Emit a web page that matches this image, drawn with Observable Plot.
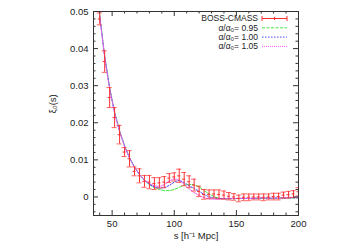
<!DOCTYPE html>
<html><head><meta charset="utf-8">
<script src="https://cdn.jsdelivr.net/npm/d3@7"></script>
<script src="https://cdn.jsdelivr.net/npm/@observablehq/plot@0.6"></script>
<style>body{margin:0;background:#fff}#chart{width:359px;height:252px}</style>
</head><body><div id="chart"></div>
<script>
// separation s [h^-1 Mpc]
const sVals = [40,44,48,52,56,60,64,68,72,76,80,84,88,92,96,100,104,108,112,116,120,124,128,132,136,140,144,148,152,156,160,164,168,172,176,180,184,188,192,196,200];
// BOSS-CMASS measurement
const xiObs = [0.0480,0.0365,0.0268,0.0214,0.0168,0.0121,0.0103,0.0069,0.0057,0.0042,0.0040,0.0036,0.0038,0.0040,0.0051,0.0054,0.0057,0.0048,0.0041,0.0032,0.0015,0.0007,0.0007,0.0008,0.0007,0.0005,0.0002,0.0000,-0.0004,-0.0001,-0.0001,0.0000,0.0000,-0.0001,0.0000,0.0001,0.0001,0.0005,0.0006,0.0008,0.0014];
const xiErr = [0.0016,0.0029,0.0027,0.0027,0.0025,0.0012,0.0022,0.0012,0.0019,0.0016,0.0018,0.0016,0.0014,0.0015,0.0012,0.0011,0.0018,0.0018,0.0016,0.0016,0.0014,0.0013,0.0012,0.0011,0.0012,0.0011,0.0010,0.0009,0.0009,0.0009,0.0009,0.0008,0.0008,0.0009,0.0008,0.0009,0.0009,0.0008,0.0009,0.0009,0.0011];
// models
const xi095 = [0.0490,0.0380,0.0295,0.0229,0.0178,0.0138,0.0106,0.0081,0.0061,0.0045,0.0033,0.0025,0.0020,0.0017,0.0017,0.0020,0.0026,0.0032,0.0034,0.0033,0.0027,0.0017,0.0008,0.0001,-0.0004,-0.0005,-0.0005,-0.0005,-0.0004,-0.0004,-0.0004,-0.0004,-0.0004,-0.0004,-0.0004,-0.0004,-0.0003,-0.0003,-0.0003,-0.0003,-0.0002];
const xi100 = [0.0488,0.0378,0.0293,0.0227,0.0177,0.0137,0.0105,0.0080,0.0060,0.0045,0.0034,0.0027,0.0024,0.0025,0.0031,0.0040,0.0045,0.0039,0.0030,0.0023,0.0015,0.0007,0.0000,-0.0003,-0.0004,-0.0004,-0.0004,-0.0004,-0.0004,-0.0004,-0.0004,-0.0004,-0.0003,-0.0003,-0.0003,-0.0003,-0.0003,-0.0003,-0.0002,-0.0002,-0.0002];
const xi105 = [0.0486,0.0376,0.0291,0.0226,0.0176,0.0137,0.0105,0.0080,0.0061,0.0046,0.0036,0.0030,0.0028,0.0033,0.0043,0.0049,0.0045,0.0034,0.0022,0.0012,0.0004,-0.0002,-0.0005,-0.0006,-0.0006,-0.0005,-0.0005,-0.0004,-0.0004,-0.0004,-0.0004,-0.0003,-0.0003,-0.0003,-0.0003,-0.0003,-0.0003,-0.0002,-0.0002,-0.0002,-0.0002];
// ticks
const xMajor = [50,100,150,200];
const xMinor = [40,60,70,80,90,110,120,130,140,160,170,180,190];
const yMajor = [0,0.01,0.02,0.03,0.04,0.05];
const yMinor = [-0.004,-0.002,0.002,0.004,0.006,0.008,0.012,0.014,0.016,0.018,0.022,0.024,0.026,0.028,0.032,0.034,0.036,0.038,0.042,0.044,0.046,0.048];
const legendLabels = ["BOSS-CMASS","α/α₀= 0.95","α/α₀= 1.00","α/α₀= 1.05"];
const xLabel = "s [h⁻¹ Mpc]";
const yLabel = "ξ₀(s)";

const W=359,H=252,mL=93,mR=61,mT=11,mB=37;
const fw=W-mL-mR, fh=H-mT-mB;
const red="#ff3030", green="#44e044", blue="#4848ff", pink="#f060f0";
const styles=[{c:green,d:"3,1.5",v:xi095},{c:blue,d:"1.5,1.5",v:xi100},{c:pink,d:"1,1",v:xi105}];
const obs = sVals.map((s,i)=>({s, xi:xiObs[i], lo:xiObs[i]-xiErr[i], hi:xiObs[i]+xiErr[i]}));
const tc="#333";
const font="'Liberation Sans', Arial, sans-serif";

const plot = Plot.plot({
  width:W, height:H, marginLeft:mL, marginRight:mR, marginTop:mT, marginBottom:mB,
  x:{domain:[35,200]}, y:{domain:[-0.005,0.05]},
  style:{fontFamily:font, fontSize:"9.5px", background:"#fff", color:"#222"},
  marks:[
    ...styles.map(m=>Plot.line(sVals.map((s,i)=>({s,xi:m.v[i]})),{x:"s",y:"xi",stroke:m.c,strokeWidth:1,strokeDasharray:m.d,clip:true})),
    Plot.ruleX(obs,{x:"s",y1:"lo",y2:"hi",stroke:red,strokeWidth:1,clip:true}),
    Plot.ruleY(obs,{y:"lo",x1:"s",x2:"s",insetLeft:-2.5,insetRight:-2.5,stroke:red,strokeWidth:1,strokeOpacity:0.75,clip:true}),
    Plot.ruleY(obs,{y:"hi",x1:"s",x2:"s",insetLeft:-2.5,insetRight:-2.5,stroke:red,strokeWidth:1,strokeOpacity:0.75,clip:true}),
    Plot.ruleY(obs,{y:"xi",x1:"s",x2:"s",insetLeft:-1.5,insetRight:-1.5,stroke:red,strokeWidth:1,clip:true}),
    // inward ticks, all four sides
    Plot.ruleX(xMajor,{x:d=>d,insetTop:fh-5,stroke:tc}),
    Plot.ruleX(xMajor,{x:d=>d,insetBottom:fh-5,stroke:tc}),
    Plot.ruleX(xMinor,{x:d=>d,insetTop:fh-2.5,stroke:tc}),
    Plot.ruleX(xMinor,{x:d=>d,insetBottom:fh-2.5,stroke:tc}),
    Plot.ruleY(yMajor,{y:d=>d,insetRight:fw-5,stroke:tc}),
    Plot.ruleY(yMajor,{y:d=>d,insetLeft:fw-5,stroke:tc}),
    Plot.ruleY(yMinor,{y:d=>d,insetRight:fw-2.5,stroke:tc}),
    Plot.ruleY(yMinor,{y:d=>d,insetLeft:fw-2.5,stroke:tc}),
    Plot.frame({stroke:tc,strokeWidth:1}),
    Plot.axisX({ticks:xMajor,tickSize:0,tickPadding:5,label:null,tickFormat:d=>String(d)}),
    Plot.axisY({ticks:yMajor,tickSize:0,tickPadding:5,label:null,tickFormat:d=>d===0?"0":d.toFixed(2)}),
    Plot.text([xLabel],{frameAnchor:"bottom",dy:23,text:d=>d,fontSize:9.5}),
    Plot.text([yLabel],{frameAnchor:"left",dx:-41,rotate:-90,text:d=>d,fontSize:9.5})
  ]
});
document.getElementById("chart").appendChild(plot);

// legend
const svg = d3.select(plot);
const g = svg.append("g").attr("font-size",8.5).attr("font-family",font);
const rowY=[18.5,27.8,37.1,46.4], tx=258, x1=262, x2=287;
legendLabels.forEach((lab,i)=>{
  g.append("text").attr("x",tx).attr("y",rowY[i]).attr("dy","0.32em").attr("text-anchor","end").attr("fill","#222").text(lab);
});
g.append("line").attr("x1",x1).attr("x2",x2).attr("y1",rowY[0]).attr("y2",rowY[0]).attr("stroke",red);
[x1,(x1+x2)/2,x2].forEach((x,j)=>g.append("line").attr("x1",x).attr("x2",x).attr("y1",rowY[0]-(j==1?1.5:2.5)).attr("y2",rowY[0]+(j==1?1.5:2.5)).attr("stroke",red));
styles.forEach((m,i)=>g.append("line").attr("x1",x1).attr("x2",x2).attr("y1",rowY[i+1]).attr("y2",rowY[i+1]).attr("stroke",m.c).attr("stroke-dasharray",m.d));
</script></body></html>
